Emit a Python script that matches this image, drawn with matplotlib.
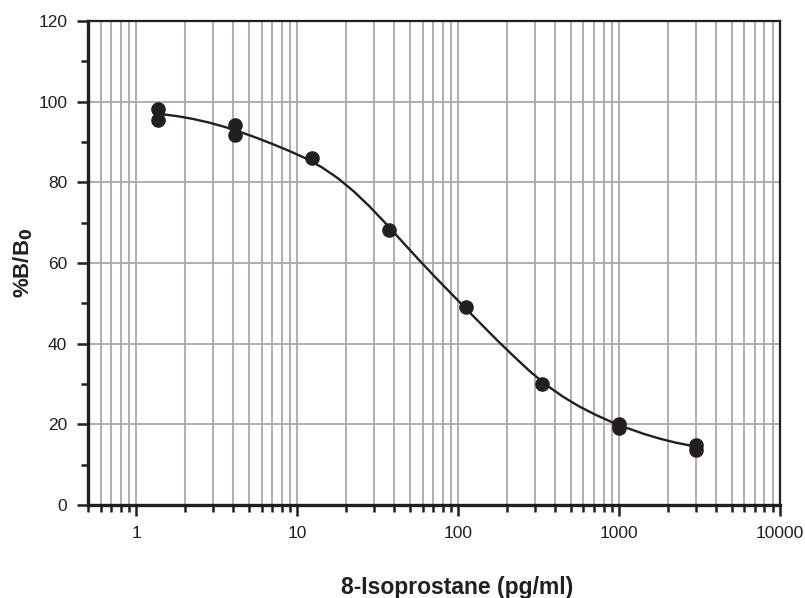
import matplotlib
matplotlib.use("Agg")
import matplotlib.pyplot as plt
from matplotlib.ticker import LogLocator, FixedLocator, NullFormatter

# standard points (pg/ml) and %B/B0, duplicates
conc = [1.37, 1.37, 4.1, 4.1, 12.3, 37, 111, 333, 1000, 1000, 3000, 3000]
bb0 = [98.2, 95.5, 94.2, 91.8, 86.0, 68.2, 49.0, 29.9, 20.1, 19.2, 14.8, 13.7]

# fitted curve
curve_x = [1.371, 1.778, 2.239, 2.818, 3.548, 4.467, 5.623, 7.079, 8.913,
           11.22, 14.13, 17.78, 22.39, 28.18, 35.48, 44.67, 56.23, 70.79,
           89.13, 112.2, 141.3, 177.8, 223.9, 281.8, 354.8, 446.7, 562.3,
           707.9, 891.3, 1122, 1413, 1778, 2239, 2818, 3000]
curve_y = [97.0, 96.43, 95.73, 94.83, 93.73, 92.43, 90.98, 89.43, 87.78,
           85.98, 83.78, 81.08, 77.78, 73.98, 69.78, 65.38, 61.03, 56.78,
           52.68, 48.58, 44.53, 40.53, 36.68, 32.98, 29.68, 26.88, 24.48,
           22.43, 20.63, 19.08, 17.68, 16.48, 15.48, 14.68, 14.5]

x_ticks = [1, 10, 100, 1000, 10000]
x_ticklabels = ["1", "10", "100", "1000", "10000"]
y_ticks = [0, 20, 40, 60, 80, 100, 120]

ink = "#231f20"
grid_c = "#a7a9ac"

plt.rcParams['font.family'] = ['Liberation Sans', 'DejaVu Sans']

fig = plt.figure(figsize=(8.05, 5.98), dpi=100)
ax = fig.add_axes([0.1093, 0.1555, 0.8597, 0.8094])

ax.set_xscale("log")
ax.set_xlim(0.5, 10000)
ax.set_ylim(0, 120)

ax.xaxis.set_major_locator(FixedLocator(x_ticks))
ax.set_xticklabels(x_ticklabels)
ax.xaxis.set_minor_locator(LogLocator(base=10, subs=range(2, 10), numticks=20))
ax.xaxis.set_minor_formatter(NullFormatter())
ax.set_yticks(y_ticks)
ax.yaxis.set_minor_locator(FixedLocator([10, 30, 50, 70, 90, 110]))

ax.grid(True, which="both", axis="x", color=grid_c, lw=1.3)
ax.grid(True, which="major", axis="y", color=grid_c, lw=1.3)
ax.set_axisbelow(True)

ax.plot(curve_x, curve_y, color=ink, lw=1.7, zorder=3)
ax.plot(conc, bb0, "o", color=ink, ms=9.5, zorder=4, clip_on=False)

for s in ["left", "bottom"]:
    ax.spines[s].set_linewidth(2.4)
    ax.spines[s].set_color(ink)
for s in ["top", "right"]:
    ax.spines[s].set_linewidth(1.6)
    ax.spines[s].set_color(ink)

ax.tick_params(which="major", direction="out", length=8, width=1.8, color=ink,
               labelsize=12.5, labelcolor=ink, top=False, right=False)
ax.tick_params(which="minor", direction="out", length=5, width=1.8, color=ink,
               top=False, right=False)
ax.tick_params(axis="x", which="major", pad=7)
ax.tick_params(axis="y", which="major", pad=7)

ax.set_xlabel("8-Isoprostane (pg/ml)", fontsize=16.5, fontweight="bold",
              color=ink)
ax.xaxis.set_label_coords(0.533, -0.147)
ax.set_ylabel(r"%B/B$_\mathbf{0}$", fontsize=16, fontweight="bold",
              color=ink)
ax.yaxis.set_label_coords(-0.077, 0.5)

fig.savefig("out.png", dpi=100)
